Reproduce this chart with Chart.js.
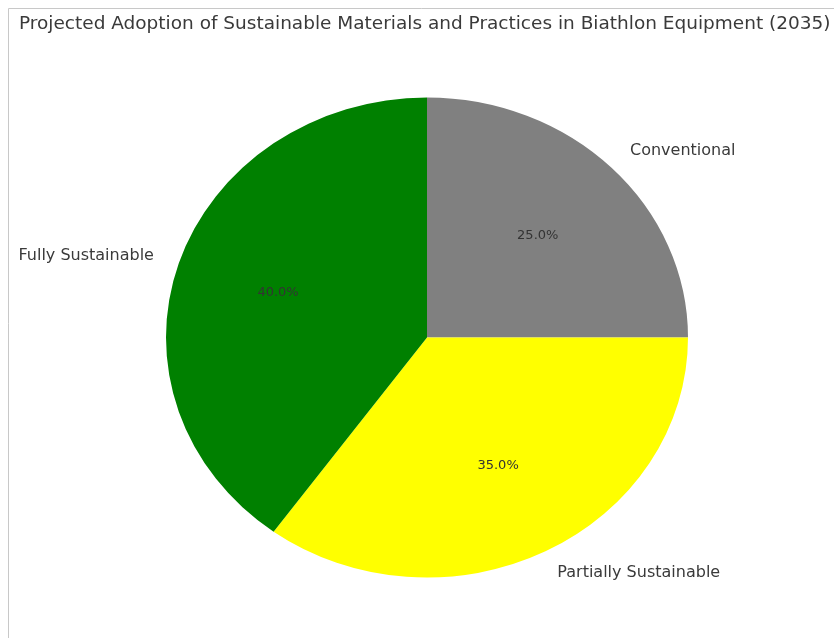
<!DOCTYPE html>
<html>
<head>
<meta charset="utf-8">
<script src="https://cdn.jsdelivr.net/npm/chart.js@4"></script>
<style>
  html, body { margin: 0; padding: 0; background: #fff; }
  #wrap { width: 834px; height: 638px; }
</style>
</head>
<body>
<div id="wrap"><canvas id="adoptionChart" width="834" height="638"></canvas></div>
<script>
// slices in clockwise order starting from 12 o'clock
const categories = ['Conventional', 'Partially Sustainable', 'Fully Sustainable'];
const shares = [25, 35, 40];
const sliceColors = ['#808080', '#ffff00', '#008000'];
const chartTitle = 'Projected Adoption of Sustainable Materials and Practices in Biathlon Equipment (2035)';

const stretchX = 261 / 240;  // pie is drawn slightly wider than tall
const textColor = '#3a3a3a';
const fontFamily = '"DejaVu Sans", sans-serif';

// light frame along the left and top edges, plus the title
const framePlugin = {
    id: 'frame',
    beforeDraw(chart) {
        const c = chart.ctx;
        c.save();
        c.strokeStyle = '#c8c8c8';
        c.lineWidth = 1;
        c.beginPath();
        c.moveTo(8.5, chart.height);
        c.lineTo(8.5, 8.5);
        c.lineTo(chart.width, 8.5);
        c.stroke();

        c.fillStyle = textColor;
        c.font = '17px ' + fontFamily;
        c.textAlign = 'left';
        c.textBaseline = 'middle';
        c.translate(19, 25);
        c.scale(stretchX, 1);
        c.fillText(chartTitle, 0, 0);
        c.restore();
    }
};

function pieCenter(chart) {
    const arc = chart.getDatasetMeta(0).data[0];
    return { x: arc.x, y: arc.y, r: arc.outerRadius };
}

const stretchPlugin = {
    id: 'stretch',
    beforeDatasetsDraw(chart) {
        const p = pieCenter(chart);
        const c = chart.ctx;
        c.save();
        c.translate(p.x, p.y);
        c.scale(stretchX, 1);
        c.translate(-p.x, -p.y);
    },
    afterDatasetsDraw(chart) {
        chart.ctx.restore();
    }
};

// category names outside the pie, percentages inside
const sliceLabelPlugin = {
    id: 'sliceLabels',
    afterDraw(chart) {
        const c = chart.ctx;
        const total = shares.reduce((a, b) => a + b, 0);
        c.save();
        c.textBaseline = 'middle';
        chart.getDatasetMeta(0).data.forEach((arc, i) => {
            const mid = (arc.startAngle + arc.endAngle) / 2;
            const cos = Math.cos(mid), sin = Math.sin(mid);
            const r = arc.outerRadius;

            c.fillStyle = textColor;
            c.font = '16px ' + fontFamily;
            c.textAlign = cos >= 0 ? 'left' : 'right';
            c.fillText(categories[i], arc.x + cos * r * 1.1 * stretchX, arc.y + sin * r * 1.1);

            c.fillStyle = '#333';
            c.font = '13px ' + fontFamily;
            c.textAlign = 'center';
            const pct = (shares[i] / total * 100).toFixed(1) + '%';
            c.fillText(pct, arc.x + cos * r * 0.6 * stretchX, arc.y + sin * r * 0.6);
        });
        c.restore();
    }
};

new Chart(document.getElementById('adoptionChart'), {
    type: 'pie',
    data: {
        labels: categories,
        datasets: [{
            data: shares,
            backgroundColor: sliceColors,
            borderWidth: 0
        }]
    },
    options: {
        responsive: false,
        animation: false,
        layout: {
            padding: { left: 187, right: 167, top: 97, bottom: 60 }
        },
        plugins: {
            legend: { display: false },
            tooltip: { enabled: false },
            title: { display: false }
        }
    },
    plugins: [framePlugin, stretchPlugin, sliceLabelPlugin]
});
</script>
</body>
</html>
